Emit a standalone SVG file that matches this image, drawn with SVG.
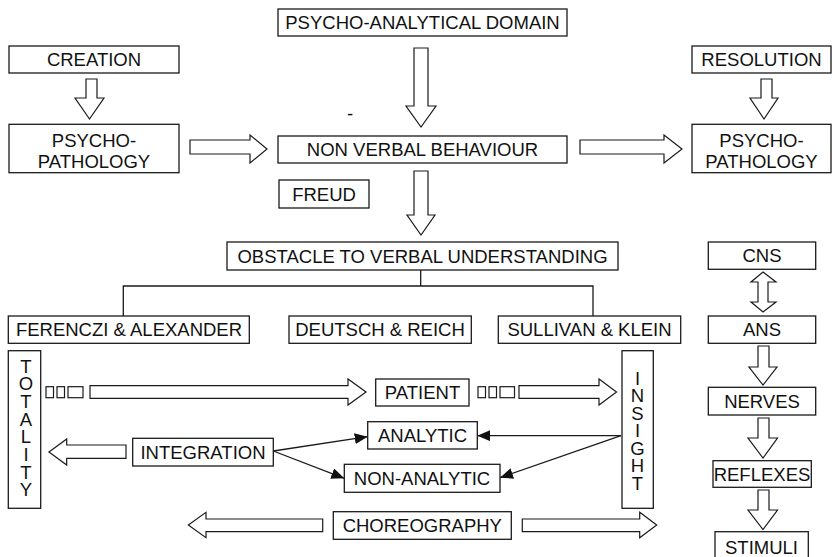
<svg xmlns="http://www.w3.org/2000/svg" width="834" height="557" viewBox="0 0 834 557">
  <style>
    .box { fill: #fff; stroke: #1a1a1a; stroke-width: 1.3; }
    .blk { fill: #fff; stroke: #1a1a1a; stroke-width: 1.2; stroke-linejoin: miter; }
    .ln { fill: none; stroke: #1a1a1a; stroke-width: 1.3; }
    .sq { fill: #fff; stroke: #1a1a1a; stroke-width: 1.2; }
    text { font-family: "Liberation Sans", Arial, sans-serif; font-size: 18.5px; fill: #111; text-anchor: middle; }
    .vert { writing-mode: vertical-rl; text-orientation: upright; text-anchor: start; letter-spacing: -3.3px; }
  </style>
  <defs>
    <marker id="tri" markerUnits="userSpaceOnUse" markerWidth="14" markerHeight="12" refX="13" refY="5.5" orient="auto">
      <path d="M0,0 L13,5.5 L0,11 Z" fill="#111"/>
    </marker>
  </defs>
  <rect width="834" height="557" fill="#fff"/>

  <!-- connectors: block arrows, tree lines and thin arrows -->
  <g id="connectors">
    <!-- vertical block arrows -->
    <polygon class="blk" points="86,79 97,79 97,98 104,98 89.5,119 75,98 86,98"/>
    <polygon class="blk" points="761,79 772,79 772,98 778,98 764,119 750,98 761,98"/>
    <polygon class="blk" points="414,48 428,48 428,106 436,106 421,127 406,106 414,106"/>
    <polygon class="blk" points="414,171 428,171 428,215 435,215 421,235 407,215 414,215"/>
    <polygon class="blk" points="763,272 776,282 768,282 768,302 776,302 763,312 751,302 758,302 758,282 751,282"/>
    <polygon class="blk" points="758,346 769,346 769,367 777,367 763,385 749,367 758,367"/>
    <polygon class="blk" points="758,418 769,418 769,438 777.5,438 763,458 748,438 758,438"/>
    <polygon class="blk" points="758,490 769,490 769,510 777.5,510 763,529.5 748,510 758,510"/>
    <!-- horizontal block arrows -->
    <polygon class="blk" points="190,140 250,140 250,135 267,149 250,163 250,154 190,154"/>
    <polygon class="blk" points="580,140 664,140 664,135 682,149 664,163 664,154 580,154"/>
    <polygon class="blk" points="90,385.7 348,385.7 348,379 366,392 348,405 348,398.3 90,398.3"/>
    <polygon class="blk" points="519,385.7 599,385.7 599,379 616.5,392 599,405 599,398.3 519,398.3"/>
    <polygon class="blk" points="126,445 66.7,445 66.7,439 49,452 66.7,465 66.7,458.3 126,458.3"/>
    <polygon class="blk" points="322.7,519 206,519 206,512.3 188.3,525 206,537.7 206,531.7 322.7,531.7"/>
    <polygon class="blk" points="522.3,519 639.7,519 639.7,512.3 656.7,525 639.7,537.7 639.7,531.7 522.3,531.7"/>
    <!-- dotted tails of the patient arrows -->
    <rect class="sq" x="46" y="386.7" width="7.5" height="11"/>
    <rect class="sq" x="57" y="386.7" width="7.5" height="11"/>
    <rect class="sq" x="68" y="386.7" width="15" height="11"/>
    <rect class="sq" x="478" y="386.7" width="7.5" height="11"/>
    <rect class="sq" x="489" y="386.7" width="7.5" height="11"/>
    <rect class="sq" x="500" y="386.7" width="14.5" height="11"/>
    <!-- branching tree under the obstacle box -->
    <path class="ln" d="M420.7,270 V286 M123.3,316 V286 H593 V316"/>
    <!-- thin arrows -->
    <line class="ln" x1="273.3" y1="451" x2="367.7" y2="436.7" marker-end="url(#tri)"/>
    <line class="ln" x1="273.3" y1="451" x2="344.3" y2="478.3" marker-end="url(#tri)"/>
    <line class="ln" x1="621" y1="435.7" x2="477.3" y2="435.7" marker-end="url(#tri)"/>
    <line class="ln" x1="621" y1="435.7" x2="500" y2="477.7" marker-end="url(#tri)"/>
  </g>

  <text x="350" y="119.5">-</text>

  <g id="psycho-analytical-domain">
    <rect class="box" x="278" y="9" width="289" height="27"/>
    <text x="422.5" y="29">PSYCHO-ANALYTICAL DOMAIN</text>
  </g>
  <g id="creation">
    <rect class="box" x="9" y="46" width="170" height="27"/>
    <text x="94" y="66">CREATION</text>
  </g>
  <g id="resolution">
    <rect class="box" x="692" y="46" width="139" height="27"/>
    <text x="761.5" y="66">RESOLUTION</text>
  </g>
  <g id="psychopathology-left">
    <rect class="box" x="9" y="124.3" width="170" height="48.4"/>
    <text x="94" y="147">PSYCHO-<tspan x="94" dy="21">PATHOLOGY</tspan></text>
  </g>
  <g id="psychopathology-right">
    <rect class="box" x="692" y="124.3" width="139" height="48.4"/>
    <text x="761.5" y="147">PSYCHO-<tspan x="761.5" dy="21">PATHOLOGY</tspan></text>
  </g>
  <g id="non-verbal-behaviour">
    <rect class="box" x="278" y="136" width="289" height="27"/>
    <text x="422.5" y="156">NON VERBAL BEHAVIOUR</text>
  </g>
  <g id="freud">
    <rect class="box" x="279" y="180" width="90" height="28"/>
    <text x="324" y="200.5">FREUD</text>
  </g>
  <g id="obstacle">
    <rect class="box" x="227" y="242" width="391" height="28"/>
    <text x="422.5" y="262.5">OBSTACLE TO VERBAL UNDERSTANDING</text>
  </g>
  <g id="ferenczi-alexander">
    <rect class="box" x="8.3" y="316" width="241" height="27.3"/>
    <text x="129" y="336">FERENCZI &amp; ALEXANDER</text>
  </g>
  <g id="deutsch-reich">
    <rect class="box" x="289" y="316" width="182.3" height="27.3"/>
    <text x="380" y="336">DEUTSCH &amp; REICH</text>
  </g>
  <g id="sullivan-klein">
    <rect class="box" x="498.3" y="316" width="182.4" height="27.3"/>
    <text x="589.5" y="336">SULLIVAN &amp; KLEIN</text>
  </g>
  <g id="cns">
    <rect class="box" x="708.3" y="242" width="107.4" height="27.3"/>
    <text x="762" y="262">CNS</text>
  </g>
  <g id="ans">
    <rect class="box" x="708.3" y="316" width="107.4" height="27.3"/>
    <text x="762" y="336">ANS</text>
  </g>
  <g id="totality">
    <rect class="box" x="8.3" y="350.7" width="32.4" height="157.6"/>
    <text class="vert" x="26" y="355.5">TOTALITY</text>
  </g>
  <g id="insight">
    <rect class="box" x="622" y="350.7" width="31.3" height="157.6"/>
    <text class="vert" x="637.5" y="367.5" style="letter-spacing:-3.5px">INSIGHT</text>
  </g>
  <g id="patient">
    <rect class="box" x="375.7" y="379" width="93.3" height="27"/>
    <text x="422.5" y="399">PATIENT</text>
  </g>
  <g id="analytic">
    <rect class="box" x="367.7" y="421.7" width="109.6" height="27.3"/>
    <text x="422.5" y="442">ANALYTIC</text>
  </g>
  <g id="non-analytic">
    <rect class="box" x="344.3" y="464.3" width="155.7" height="28"/>
    <text x="422" y="484.5">NON-ANALYTIC</text>
  </g>
  <g id="integration">
    <rect class="box" x="132.7" y="438.3" width="140.6" height="27.7"/>
    <text x="203" y="458.5">INTEGRATION</text>
  </g>
  <g id="choreography">
    <rect class="box" x="333.3" y="511.7" width="178" height="27.6"/>
    <text x="422.3" y="532">CHOREOGRAPHY</text>
  </g>
  <g id="nerves">
    <rect class="box" x="708.3" y="387.3" width="107.4" height="27.7"/>
    <text x="762" y="407.5">NERVES</text>
  </g>
  <g id="reflexes">
    <rect class="box" x="713" y="460.7" width="98.3" height="26.6"/>
    <text x="762" y="480.5">REFLEXES</text>
  </g>
  <g id="stimuli">
    <rect class="box" x="715" y="531.7" width="93.3" height="40"/>
    <text x="761.5" y="553.5">STIMULI</text>
  </g>
</svg>
